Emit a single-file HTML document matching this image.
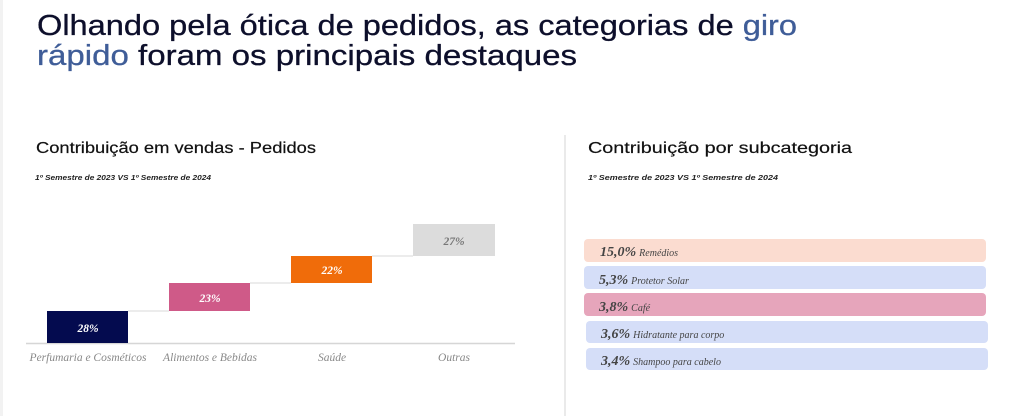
<!DOCTYPE html>
<html><head><meta charset="utf-8"><style>
html,body{margin:0;padding:0;background:#fff;}
svg{display:block;}
</style></head><body>
<svg width="1024" height="416" viewBox="0 0 1024 416" xmlns="http://www.w3.org/2000/svg">
<rect width="1024" height="416" fill="#fff"/>
<rect x="0" y="0" width="3" height="416" fill="#f2f2f2"/>
<g font-family="Liberation Sans, sans-serif" fill="#0d0f2b" font-size="29" stroke="#0d0f2b" stroke-width="0.3">
<text x="37" y="35" textLength="760" lengthAdjust="spacingAndGlyphs">Olhando pela ótica de pedidos, as categorias de <tspan fill="#3f5d98" stroke="#3f5d98">giro</tspan></text>
<text x="37" y="65" textLength="540" lengthAdjust="spacingAndGlyphs"><tspan fill="#3f5d98" stroke="#3f5d98">rápido</tspan> foram os principais destaques</text>
</g>
<g font-family="Liberation Sans, sans-serif" fill="#111" font-size="16" stroke="#111" stroke-width="0.2">
<text x="36" y="153" textLength="280" lengthAdjust="spacingAndGlyphs">Contribuição em vendas - Pedidos</text>
<text x="588" y="153" textLength="264" lengthAdjust="spacingAndGlyphs">Contribuição por subcategoria</text>
</g>
<g font-family="Liberation Sans, sans-serif" font-style="italic" font-weight="bold" fill="#222" font-size="7">
<text x="35" y="180" textLength="176" lengthAdjust="spacingAndGlyphs">1º Semestre de 2023 VS 1º Semestre de 2024</text>
<text x="588" y="180" textLength="190" lengthAdjust="spacingAndGlyphs">1º Semestre de 2023 VS 1º Semestre de 2024</text>
</g>
<line x1="565" y1="135" x2="565" y2="416" stroke="#e4e4e4" stroke-width="1.5"/>
<g stroke="#d8d8d8" stroke-width="1">
<line x1="128" y1="311" x2="169" y2="311"/>
<line x1="250" y1="283" x2="291" y2="283"/>
<line x1="372" y1="256" x2="413" y2="256"/>
</g>
<line x1="26" y1="343.5" x2="515" y2="343.5" stroke="#d6d6d6" stroke-width="1.5"/>
<rect x="47" y="311" width="81" height="32" fill="#040b4f"/>
<rect x="169" y="283" width="81" height="28" fill="#cf5a88"/>
<rect x="291" y="256" width="81" height="27" fill="#f06c0a"/>
<rect x="413" y="224" width="82" height="32" fill="#dcdcdc"/>
<g font-family="Liberation Serif, serif" font-style="italic" font-weight="bold" font-size="11.5" text-anchor="middle">
<text x="88" y="332" fill="#fff">28%</text>
<text x="210" y="302" fill="#fff">23%</text>
<text x="332" y="274" fill="#fff">22%</text>
<text x="454" y="245" fill="#777">27%</text>
</g>
<g font-family="Liberation Serif, serif" font-style="italic" font-size="11.5" fill="#888" text-anchor="middle">
<text x="88" y="361">Perfumaria e Cosméticos</text>
<text x="210" y="361">Alimentos e Bebidas</text>
<text x="332" y="361">Saúde</text>
<text x="454" y="361">Outras</text>
</g>
<rect x="584" y="239" width="402" height="23" rx="4" fill="#fbdcd0"/>
<rect x="584" y="266" width="402" height="23" rx="4" fill="#d5def8"/>
<rect x="584" y="293" width="402" height="23" rx="4" fill="#e6a5bb"/>
<rect x="586" y="321" width="402" height="22" rx="4" fill="#d5def8"/>
<rect x="586" y="348" width="402" height="22" rx="4" fill="#d5def8"/>
<g font-family="Liberation Serif, serif" font-style="italic" fill="#444">
<text x="600" y="256"><tspan font-weight="bold" font-size="14">15,0%</tspan><tspan font-size="10" dx="3">Remédios</tspan></text>
<text x="599" y="284"><tspan font-weight="bold" font-size="14">5,3%</tspan><tspan font-size="10" dx="3">Protetor Solar</tspan></text>
<text x="599" y="311"><tspan font-weight="bold" font-size="14">3,8%</tspan><tspan font-size="10" dx="3">Café</tspan></text>
<text x="601" y="338"><tspan font-weight="bold" font-size="14">3,6%</tspan><tspan font-size="10" dx="3">Hidratante para corpo</tspan></text>
<text x="601" y="365"><tspan font-weight="bold" font-size="14">3,4%</tspan><tspan font-size="10" dx="3">Shampoo para cabelo</tspan></text>
</g>
</svg>
</body></html>
